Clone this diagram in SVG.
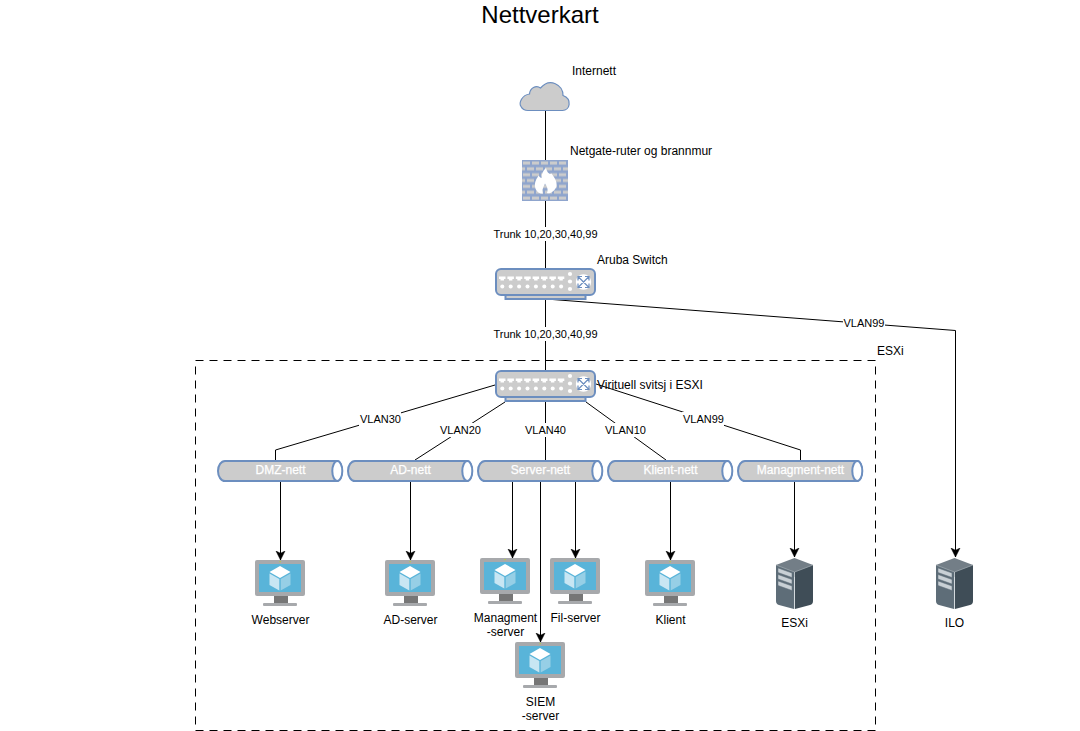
<svg xmlns="http://www.w3.org/2000/svg" xmlns:xlink="http://www.w3.org/1999/xlink" width="1080" height="731" viewBox="0 0 1080 731">
<style>
text{font-family:"Liberation Sans",Arial,sans-serif;font-size:12px;fill:#000}
.m{text-anchor:middle}
.el{font-size:11px;text-anchor:middle}
.pl{fill:#fff;stroke:#fff;stroke-width:0.25;text-anchor:middle}
.title{font-size:24px;text-anchor:middle}
.c{fill:none;stroke:#000;stroke-width:1}
.bg{fill:#fff;stroke:none}
.sh{fill:#ccc;stroke:#6c8ebf;stroke-width:2}
</style>
<defs>
<marker id="arr" markerUnits="userSpaceOnUse" markerWidth="12" markerHeight="12" refX="9" refY="6" orient="auto">
<path d="M0 1.500 L9 6 L0 10.500 L2.300 6 Z" fill="#000" stroke="#000" stroke-width="0.5"/>
</marker>
<pattern id="brick" patternUnits="userSpaceOnUse" x="522" y="160" width="18" height="11.700">
<rect width="18" height="11.700" fill="#8fa5cd"/>
<rect x="1" y="1.500" width="7" height="3" fill="#ccc"/><rect x="10" y="1.500" width="7" height="3" fill="#ccc"/>
<rect x="-4" y="7.300" width="7" height="3" fill="#ccc"/><rect x="5" y="7.300" width="7" height="3" fill="#ccc"/><rect x="14" y="7.300" width="7" height="3" fill="#ccc"/>
</pattern>
<g id="sw">
<rect x="10.500" y="27" width="80" height="4" fill="#ccc" stroke="#6c8ebf" stroke-width="2"/>
<rect x="1" y="1" width="99" height="26" rx="5" class="sh"/>
<g fill="#fff">
<path id="pt" d="M4 8.500h6.500v2.500h-1.500v1.500h-3.500v-1.500h-1.500z"/>
<use xlink:href="#pt" x="8.400"/><use xlink:href="#pt" x="16.800"/><use xlink:href="#pt" x="25.200"/><use xlink:href="#pt" x="33.600"/><use xlink:href="#pt" x="42"/><use xlink:href="#pt" x="50.400"/><use xlink:href="#pt" x="58.800"/>
<circle cx="7.300" cy="18.500" r="2"/><circle cx="15.700" cy="18.500" r="2"/><circle cx="24.100" cy="18.500" r="2"/><circle cx="32.500" cy="18.500" r="2"/><circle cx="40.900" cy="18.500" r="2"/><circle cx="49.300" cy="18.500" r="2"/><circle cx="57.700" cy="18.500" r="2"/><circle cx="66.100" cy="18.500" r="2"/>
<circle cx="75" cy="6" r="2.100"/><circle cx="75" cy="13.500" r="2.100"/><circle cx="75" cy="21" r="2.100"/>
<circle cx="88.500" cy="14" r="7.700"/>
</g>
<path d="M83.500 9l10 10M93.500 9l-10 10M83 12.500v-4h4M94 12.500v-4h-4M83 15.500v4h4M94 15.500v4h-4" fill="none" stroke="#6c8ebf" stroke-width="1.200"/>
</g>
<g id="pipe">
<path d="M7 1H119A5 10 0 0 1 119 21H7A7 10 0 0 1 7 1Z" class="sh"/>
<ellipse cx="119.300" cy="11" rx="5" ry="10" fill="#fff" stroke="#6c8ebf" stroke-width="2"/>
</g>
<g id="vm">
<rect x="0" y="0" width="50" height="36" rx="2" fill="#a7a9ac"/>
<rect x="4" y="4" width="42" height="28" fill="#59b4d9"/>
<rect x="19" y="36" width="14" height="7" fill="#767676"/>
<rect x="8" y="43" width="34" height="3" rx="1" fill="#a7a9ac"/>
<rect x="24.500" y="1" width="1.200" height="1.200" fill="#b8d432"/>
<path d="M25 6l10.500 6-10.500 6-10.500-6z" fill="#fff"/>
<path d="M14.500 13.500l9.800 5.600v11.400l-9.800-5.600z" fill="#c8e6f3"/>
<path d="M35.500 13.500l-9.800 5.600v11.400l9.800-5.600z" fill="#96cfe6"/>
</g>
<g id="srv">
<path d="M18.500 0L37 7v6L18.500 19 0 13V7z" fill="#737e87"/>
<path d="M0 7L18 14V51L3 47Q0 46 0 43z" fill="#5e6d78"/>
<path d="M37 7L19 14V51L34 47Q37 46 37 43z" fill="#3f4d57"/>
<path d="M0 7L18.500 14 37 7" fill="none" stroke="#9aa4ab" stroke-width="0.800"/>
<path d="M18.500 14V51" stroke="#c8cfd4" stroke-width="0.800"/>
<path d="M2 10l14 5v4.500l-14-5zM2 16.500l14 5v4.500l-14-5zM2 23l14 5v4.500l-14-5z" fill="#c9d0d5" stroke="#5e6d78" stroke-width="0.500"/>
</g>
</defs>

<rect x="0" y="0" width="1080" height="731" fill="#fff"/>
<text class="title" x="540" y="23">Nettverkart</text>
<rect id="esxi-boundary" x="195.500" y="360.500" width="680" height="370" fill="none" stroke="#000" stroke-dasharray="8 6"/>
<text x="877" y="355">ESXi</text>

<g id="connectors">
<path class="c" d="M545.500 111V160"/>
<path class="c" d="M545.500 201V268"/>
<path class="c" d="M545.500 299V371"/>
<path class="c" d="M546 299L955.500 330.500V557" marker-end="url(#arr)"/>
<path class="c" d="M495 385L275.500 450V460"/>
<path class="c" d="M505 402L415 460"/>
<path class="c" d="M545.500 402V460"/>
<path class="c" d="M586 402L666 460"/>
<path class="c" d="M596 384L800.500 450V460"/>
<path class="c" d="M280.500 481V560" marker-end="url(#arr)"/>
<path class="c" d="M410.500 481V560" marker-end="url(#arr)"/>
<path class="c" d="M512.500 481V558" marker-end="url(#arr)"/>
<path class="c" d="M575.500 481V558" marker-end="url(#arr)"/>
<path class="c" d="M540.500 481V642" marker-end="url(#arr)"/>
<path class="c" d="M670.500 481V560" marker-end="url(#arr)"/>
<path class="c" d="M794.500 481V557" marker-end="url(#arr)"/>
<rect class="bg" x="493" y="227" width="105" height="14"/><text class="el" x="545.500" y="238">Trunk 10,20,30,40,99</text>
<rect class="bg" x="493" y="327" width="105" height="14"/><text class="el" x="545.500" y="338">Trunk 10,20,30,40,99</text>
<rect class="bg" x="843" y="316" width="42" height="14"/><text class="el" x="864" y="327">VLAN99</text>
<rect class="bg" x="359" y="412" width="42" height="14"/><text class="el" x="380.500" y="423">VLAN30</text>
<rect class="bg" x="439" y="423" width="42" height="14"/><text class="el" x="460.500" y="434">VLAN20</text>
<rect class="bg" x="524" y="423" width="42" height="14"/><text class="el" x="545.500" y="434">VLAN40</text>
<rect class="bg" x="604" y="423" width="42" height="14"/><text class="el" x="625.500" y="434">VLAN10</text>
<rect class="bg" x="682" y="412" width="42" height="14"/><text class="el" x="703.500" y="423">VLAN99</text>
</g>

<g id="internet">
<path d="M528 110.500H562.500C570 110.500 572.500 99 563 95.500C563 85 550 77 540.500 88C536 84.500 530 88 529.500 94C522 95 518.500 103 521 106.500C522.500 109.500 525 110.500 528 110.500Z" fill="#ccc" stroke="#6c8ebf" stroke-width="1.200"/>
<text x="572" y="75">Internett</text>
</g>
<g id="firewall">
<rect x="522" y="160" width="46" height="41" fill="url(#brick)"/>
<path d="M546 168C547 173 550 175 551.500 173.500C555 178 558 183 556 187.500C554 192 549 194 547 193C548.500 189.500 547 186.500 545 183.500C543.500 187 541.500 190 543 193.500C539 194 535.500 191 535 186.500C534.500 181.500 537 178.500 538.500 175.500C539.500 177 540.500 178 541.500 178C541.500 174 543 170.500 546 168Z" fill="#fff"/>
<text x="570" y="155">Netgate-ruter og brannmur</text>
</g>
<g id="aruba-switch">
<use xlink:href="#sw" x="495" y="268"/>
<text x="597" y="264">Aruba Switch</text>
</g>
<g id="virtual-switch">
<use xlink:href="#sw" x="495" y="370"/>
<text x="597" y="389">Virituell svitsj i ESXI</text>
</g>
<g id="dmz-nett"><use xlink:href="#pipe" x="218" y="460"/><text class="pl" x="280.500" y="474">DMZ-nett</text></g>
<g id="ad-nett"><use xlink:href="#pipe" x="348" y="460"/><text class="pl" x="410.500" y="474">AD-nett</text></g>
<g id="server-nett"><use xlink:href="#pipe" x="478" y="460"/><text class="pl" x="540.500" y="474">Server-nett</text></g>
<g id="klient-nett"><use xlink:href="#pipe" x="608" y="460"/><text class="pl" x="670.500" y="474">Klient-nett</text></g>
<g id="managment-nett"><use xlink:href="#pipe" x="738" y="460"/><text class="pl" x="800.500" y="474">Managment-nett</text></g>
<g id="webserver"><use xlink:href="#vm" x="255" y="560"/><text class="m" x="280.500" y="624">Webserver</text></g>
<g id="ad-server"><use xlink:href="#vm" x="385" y="560"/><text class="m" x="410.500" y="624">AD-server</text></g>
<g id="managment-server"><use xlink:href="#vm" x="480" y="558"/><text class="m" x="505.500" y="622">Managment</text><text class="m" x="505.500" y="636">-server</text></g>
<g id="fil-server"><use xlink:href="#vm" x="550" y="558"/><text class="m" x="575.500" y="622">Fil-server</text></g>
<g id="klient"><use xlink:href="#vm" x="645" y="560"/><text class="m" x="670.500" y="624">Klient</text></g>
<g id="siem-server"><use xlink:href="#vm" x="515" y="642"/><text class="m" x="540.500" y="706">SIEM</text><text class="m" x="540.500" y="720">-server</text></g>
<g id="esxi"><use xlink:href="#srv" x="776" y="558"/><text class="m" x="794.500" y="627">ESXi</text></g>
<g id="ilo"><use xlink:href="#srv" x="936" y="558"/><text class="m" x="954.500" y="627">ILO</text></g>
</svg>
